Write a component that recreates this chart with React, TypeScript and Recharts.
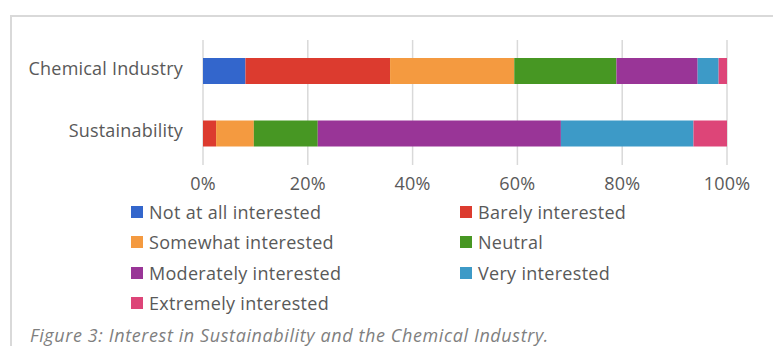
import React from "react";
import { Bar, BarChart, CartesianGrid, XAxis, YAxis } from "recharts";

const categories = ["Chemical Industry", "Sustainability"];

const notAtAll = [8.1, 0];
const barely = [27.6, 2.5];
const somewhat = [23.7, 7.2];
const neutral = [19.5, 12.2];
const moderately = [15.5, 46.4];
const very = [4.0, 25.3];
const extremely = [1.6, 6.4];

const percentTicks = [0, 20, 40, 60, 80, 100];

const series = [
  { key: "notAtAll", name: "Not at all interested", values: notAtAll, color: "#3366CC" },
  { key: "barely", name: "Barely interested", values: barely, color: "#DC3B2F" },
  { key: "somewhat", name: "Somewhat interested", values: somewhat, color: "#F49A40" },
  { key: "neutral", name: "Neutral", values: neutral, color: "#479723" },
  { key: "moderately", name: "Moderately interested", values: moderately, color: "#993597" },
  { key: "very", name: "Very interested", values: very, color: "#3D9AC7" },
  { key: "extremely", name: "Extremely interested", values: extremely, color: "#DD4578" },
];

const data = categories.map((name, i) => {
  const row: Record<string, string | number> = { name };
  series.forEach((s) => {
    row[s.key] = s.values[i];
  });
  return row;
});

const font = "'Open Sans', Lato, sans-serif";
const textColor = "#595959";

export default function App() {
  return (
    <div
      style={{
        position: "absolute",
        left: 0,
        top: 0,
        width: 773,
        height: 346,
        overflow: "hidden",
        background: "#fff",
        fontFamily: font,
      }}
    >
      <div
        style={{
          position: "absolute",
          left: 10,
          top: 15,
          width: 900,
          height: 400,
          borderLeft: "2px solid #d9d9d9",
          borderTop: "2px solid #d9d9d9",
        }}
      />
      <div style={{ position: "absolute", left: 0, top: 0 }}>
        <BarChart
          width={773}
          height={200}
          data={data}
          layout="vertical"
          margin={{ top: 40, right: 46, bottom: 0, left: 0 }}
          barSize={26}
        >
          <CartesianGrid horizontal={false} stroke="#d9d9d9" strokeWidth={1.5} />
          <XAxis
            type="number"
            domain={[0, 100]}
            ticks={percentTicks}
            tickFormatter={(v) => `${v}%`}
            axisLine={false}
            tickLine={false}
            tick={{ fill: textColor, fontSize: 18, fontFamily: font, letterSpacing: 0.2 }}
            tickMargin={6}
            height={35}
          />
          <YAxis
            type="category"
            dataKey="name"
            width={203}
            axisLine={false}
            tickLine={false}
            tickSize={0}
            tickMargin={20}
            tick={{ fill: textColor, fontSize: 18, fontFamily: font, letterSpacing: 0.2, dy: -3 }}
          />
          {series.map((s) => (
            <Bar
              key={s.key}
              dataKey={s.key}
              name={s.name}
              stackId="a"
              fill={s.color}
              isAnimationActive={false}
            />
          ))}
        </BarChart>
      </div>
      <div
        style={{
          position: "absolute",
          left: 131,
          top: 197,
          display: "grid",
          gridTemplateColumns: "329px 300px",
          rowGap: 0,
        }}
      >
        {series.map((s) => (
          <div
            key={s.key}
            style={{
              display: "flex",
              alignItems: "center",
              height: 30.3,
              fontSize: 18,
              letterSpacing: 0.3,
              color: textColor,
              whiteSpace: "nowrap",
            }}
          >
            <span
              style={{
                display: "inline-block",
                width: 12,
                height: 12,
                background: s.color,
                marginRight: 6,
              }}
            />
            {s.name}
          </div>
        ))}
      </div>
      <div
        style={{
          position: "absolute",
          left: 30,
          top: 324,
          fontSize: 18,
          lineHeight: "22px",
          letterSpacing: 0.6,
          fontStyle: "italic",
          color: "#7f7f7f",
          whiteSpace: "nowrap",
        }}
      >
        Figure 3: Interest in Sustainability and the Chemical Industry.
      </div>
    </div>
  );
}
